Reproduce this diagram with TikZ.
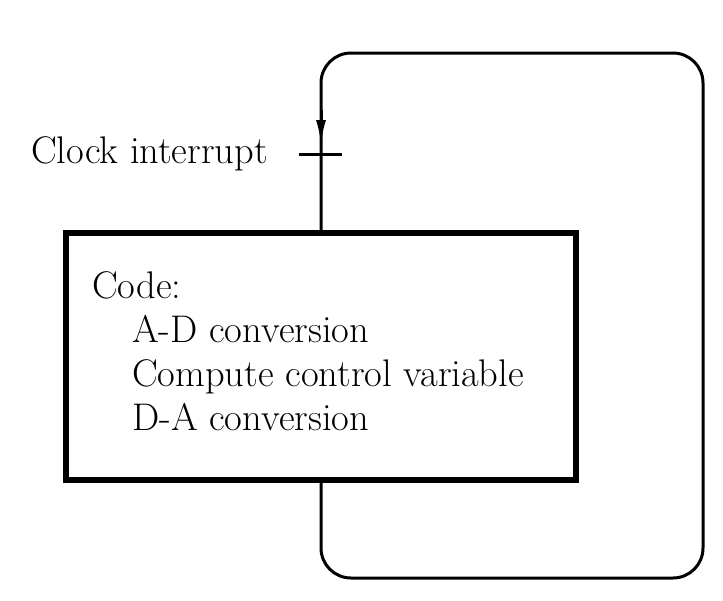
\documentclass[tikz,border=0pt]{standalone}
\usetikzlibrary{arrows.meta}
\begin{document}
\begin{tikzpicture}[x=1pt,y=-1pt,
  txt/.style={font=\fontsize{38.5}{44}\selectfont, inner sep=0pt},
  codebox/.style={draw, line width=5.5pt, minimum width=510pt, minimum height=247pt, inner sep=0pt},
  loopline/.style={line width=3pt, rounded corners=30pt},
  bar/.style={line width=3pt},
  tip/.style={line width=3pt, -{Latex[length=25pt,width=10pt]}}]
\useasboundingbox (0,0) rectangle (723,600);
\node[codebox] (box) at (321,356.5) {};
\node[txt, anchor=north west, align=left] (code) at (92,271.5)
  {Code:\\\hspace*{40pt}A-D conversion\\\hspace*{40pt}Compute control variable\\\hspace*{40pt}D-A conversion};
\coordinate (br) at (703,578);
\coordinate (tr) at (703,53);
\draw[loopline] (box.south) |- (br) -- (tr) -| (box.north);
\coordinate (a1) at (box.north |- 0,110);
\coordinate (a2) at (box.north |- 0,145);
\draw[tip] (a1) -- (a2);
\coordinate (t) at (box.north |- 0,154);
\coordinate (tl) at ([xshift=-22pt]t);
\coordinate (trr) at ([xshift=21pt]t);
\draw[bar] (tl) -- (trr);
\node[txt, anchor=base east] (clk) at (268,163) {Clock interrupt};
\end{tikzpicture}
\end{document}
